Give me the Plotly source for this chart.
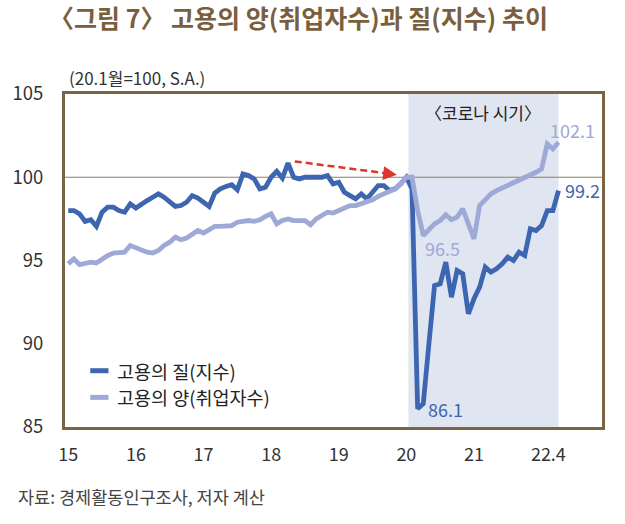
import plotly.graph_objects as go

# ---------------- data ----------------
n_months = 88  # 2015.1 ~ 2022.4
months_x = [2015 + i / 12 for i in range(n_months)]

quality = [  # 고용의 질(지수)
    98.0, 98.0, 97.8, 97.35, 97.45, 97.05, 97.9, 98.2, 98.2, 98.0, 97.9, 98.4,
    98.15, 98.4, 98.6, 98.8, 99.0, 98.8, 98.5, 98.25, 98.3, 98.5, 98.9, 98.75,
    98.5, 98.25, 99.05, 99.3, 99.45, 99.55, 99.25, 100.2, 100.1, 99.9, 99.3, 99.4,
    100.0, 100.35, 99.95, 100.85, 100.0, 99.9, 100.0, 100.0, 99.95, 100.0, 100.1, 99.6,
    99.7, 99.1, 98.9, 98.7, 99.0, 98.7, 99.1, 99.5, 99.5, 99.2, 99.3, 99.6,
    100.0, 99.3, 86.1, 86.4, 90.0, 93.5, 93.6, 94.9, 92.8, 94.4, 94.2, 91.8,
    92.7, 93.4, 94.6, 94.3, 94.5, 94.8, 95.2, 95.0, 95.5, 95.3, 96.9, 96.8,
    97.1, 98.0, 98.0, 99.2,
]
quantity = [  # 고용의 양(취업자수)
    94.8, 95.1, 94.75, 94.8, 94.9, 94.85, 95.1, 95.3, 95.45, 95.5, 95.5, 95.9,
    95.75, 95.6, 95.5, 95.45, 95.6, 95.9, 96.1, 96.4, 96.25, 96.35, 96.55, 96.8,
    96.65, 96.85, 97.05, 97.05, 97.05, 97.1, 97.3, 97.35, 97.4, 97.35, 97.45, 97.65,
    97.8, 97.2, 97.4, 97.5, 97.4, 97.4, 97.4, 97.15, 97.5, 97.7, 97.9, 97.85,
    98.0, 98.2, 98.3, 98.3, 98.4, 98.5, 98.65, 98.85, 99.0, 99.2, 99.3, 99.6,
    100.0, 100.0, 98.0, 96.5, 96.9, 97.2, 97.4, 97.75, 97.45, 97.6, 98.1, 97.2,
    96.3, 98.3, 98.7, 99.0, 99.2, 99.35, 99.5, 99.65, 99.85, 100.0, 100.1, 100.3,
    100.5, 102.0, 101.7, 102.1,
]
series_names = ["고용의 질(지수)", "고용의 양(취업자수)"]
x_tick_vals = [2015, 2016, 2017, 2018, 2019, 2020, 2021, 2022.10]
x_tick_text = ["15", "16", "17", "18", "19", "20", "21", "22.4"]
y_tick_vals = [85, 90, 95, 100, 105]
covid_start, covid_end = 2020.03, 2022.25
idx_quality_low = 62   # 2020.3
idx_quantity_low = 63  # 2020.4

# ---------------- style ----------------
DARK = "#3e66b0"
LIGHT = "#9ea9d7"
FRAME = "#7b6444"
TITLE_C = "#7a5f3e"
FONT = "Noto Sans CJK KR"
LW = 4.8

fig = go.Figure()
fig.add_trace(go.Scatter(x=months_x, y=quality, mode="lines", name=series_names[0],
                         line=dict(color=DARK, width=LW), showlegend=False))
fig.add_trace(go.Scatter(x=months_x, y=quantity, mode="lines", name=series_names[1],
                         line=dict(color=LIGHT, width=LW), showlegend=False))

shapes = [
    dict(type="rect", xref="x", yref="paper", x0=covid_start, x1=covid_end, y0=0, y1=1,
         fillcolor="#dfe5f1", line=dict(width=0), layer="below"),
    dict(type="line", xref="paper", yref="y", x0=0, x1=1, y0=100, y1=100,
         line=dict(color="#8f7f66", width=1), layer="below"),
    # red dashed arrow body
    dict(type="line", xref="x", yref="y", x0=2018.35, y0=100.95, x1=2019.77, y1=100.2,
         line=dict(color="#e0352b", width=2.5, dash="7px,4px")),
]
# manual legend
leg_y = [0.169, 0.089]
leg_cols = [DARK, LIGHT]
for yy, cc in zip(leg_y, leg_cols):
    shapes.append(dict(type="line", xref="paper", yref="paper", x0=0.047, x1=0.081,
                       y0=yy, y1=yy, line=dict(color=cc, width=5)))

annotations = [
    dict(text="〈그림 7〉 고용의 양(취업자수)과 질(지수) 추이", xref="paper", yref="paper",
         x=-0.033, y=1.232, xanchor="left", yanchor="middle", showarrow=False,
         font=dict(family=FONT, size=25, color=TITLE_C, weight="bold")),
    dict(text="(20.1월=100, S.A.)", xref="paper", yref="paper", x=0.004, y=1.051,
         xanchor="left", yanchor="middle", showarrow=False,
         font=dict(family=FONT, size=17, color="#333333")),
    dict(text="〈코로나 시기〉", xref="paper", yref="paper", x=0.779, y=0.945,
         xanchor="center", yanchor="middle", showarrow=False,
         font=dict(family=FONT, size=17, color="#222222")),
    dict(text="자료: 경제활동인구조사, 저자 계산", xref="paper", yref="paper", x=-0.091, y=-0.21,
         xanchor="left", yanchor="middle", showarrow=False,
         font=dict(family=FONT, size=17.5, color="#444444")),
    # arrow head
    dict(x=2019.86, y=100.15, ax=2019.72, ay=100.22, xref="x", yref="y", axref="x", ayref="y",
         text="", showarrow=True, arrowhead=2, arrowsize=1.1, arrowwidth=2.5, arrowcolor="#e0352b"),
    # value labels
    dict(text=f"{quantity[-1]:.1f}", x=months_x[-1], y=quantity[-1], xanchor="left", yanchor="middle",
         xshift=-11, yshift=12, showarrow=False, font=dict(family=FONT, size=18, color=LIGHT)),
    dict(text=f"{quality[-1]:.1f}", x=months_x[-1], y=quality[-1], xanchor="left", yanchor="middle",
         xshift=4, yshift=1, showarrow=False, font=dict(family=FONT, size=18, color=DARK)),
    dict(text=f"{quantity[idx_quantity_low]:.1f}", x=months_x[idx_quantity_low], y=quantity[idx_quantity_low],
         xanchor="left", yanchor="middle", xshift=0, yshift=-12, showarrow=False,
         font=dict(family=FONT, size=18, color=LIGHT)),
    dict(text=f"{quality[idx_quality_low]:.1f}", x=months_x[idx_quality_low], y=quality[idx_quality_low],
         xanchor="left", yanchor="middle", xshift=8, yshift=0, showarrow=False,
         font=dict(family=FONT, size=18, color=DARK)),
]
for yy, nm in zip(leg_y, series_names):
    annotations.append(dict(text=nm, xref="paper", yref="paper", x=0.093, y=yy,
                            xanchor="left", yanchor="middle", showarrow=False,
                            font=dict(family=FONT, size=18.5, color="#222222")))

fig.update_layout(
    width=625, height=524,
    margin=dict(l=55, r=23, t=94, b=97),
    paper_bgcolor="white", plot_bgcolor="white",
    shapes=shapes, annotations=annotations,
    font=dict(family=FONT, color="#333333"),
    showlegend=False,
)
fig.update_xaxes(range=[2014.952, 2022.893], tickvals=x_tick_vals, ticktext=x_tick_text,
                 showgrid=False, zeroline=False, showline=True, linewidth=3, linecolor=FRAME,
                 mirror=True, ticks="", ticklabelstandoff=9,
                 tickfont=dict(family=FONT, size=18, color="#333333"))
fig.update_yaxes(range=[85, 105], tickvals=y_tick_vals,
                 showgrid=False, zeroline=False, showline=True, linewidth=3, linecolor=FRAME,
                 mirror=True, ticks="", ticklabelstandoff=15,
                 tickfont=dict(family=FONT, size=18.5, color="#333333"))

fig.write_html("out.html")
